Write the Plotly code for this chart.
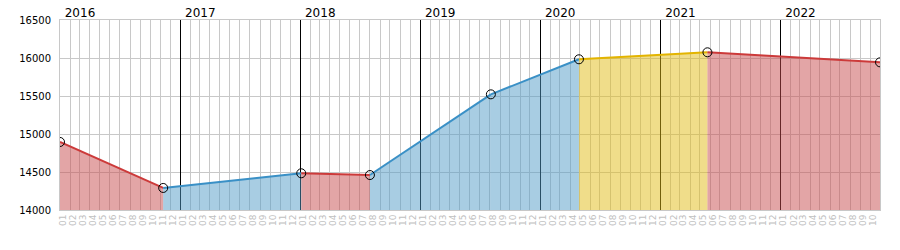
import plotly.graph_objects as go

# Data
dates = ["2016-01-01", "2016-11-10", "2018-01-04", "2018-08-01",
         "2019-08-04", "2020-04-28", "2021-05-24", "2022-10-31"]
values = [14895, 14290, 14483, 14460, 15522, 15983, 16075, 15943]
segment_trend = ["down", "up", "down", "up", "up", "flat", "down"]

line_colors = {"down": "#cc3a3a", "up": "#3a90c6", "flat": "#e3b400"}
fill_colors = {"down": "rgba(199,75,77,0.5)", "up": "rgba(81,155,199,0.5)",
               "flat": "rgba(226,188,22,0.5)"}

x_start, x_end = "2016-01-01", "2022-10-31"
y_ticks = [14000, 14500, 15000, 15500, 16000, 16500]
y_tick_text = [str(v) for v in y_ticks]

fig = go.Figure()
for i, trend in enumerate(segment_trend):
    fig.add_trace(go.Scatter(
        x=dates[i:i + 2], y=values[i:i + 2], mode="lines",
        fill="tozeroy", fillcolor=fill_colors[trend],
        line=dict(color=line_colors[trend], width=2),
        hoverinfo="skip", showlegend=False,
    ))

fig.add_trace(go.Scatter(
    x=dates, y=values, mode="markers", xaxis="x2",
    marker=dict(symbol="circle-open", size=9, color="black", line=dict(width=1)),
    showlegend=False,
))

fig.update_layout(
    width=900, height=250,
    margin=dict(l=60, r=20, t=20, b=40, autoexpand=False),
    plot_bgcolor="white", paper_bgcolor="white",
    font=dict(family="DejaVu Sans", color="black"),
    xaxis=dict(
        type="date", range=[x_start, x_end], automargin=False,
        tick0="2016-01-01", dtick="M1", tickformat="%m",
        tickangle=-90, tickfont=dict(size=9, color="#c0c0c0"),
        ticklabelshift=3,
        showgrid=True, gridcolor="#c8c8c8", gridwidth=1,
        showline=True, linecolor="#c8c8c8", linewidth=1, mirror=True,
        zeroline=False,
    ),
    xaxis2=dict(
        type="date", range=[x_start, x_end], overlaying="x", side="top",
        automargin=False,
        tick0="2016-01-01", dtick="M12", tickformat="%Y",
        tickfont=dict(size=12, color="black"), ticklabelshift=20,
        showgrid=True, gridcolor="black", gridwidth=1,
        showline=False, zeroline=False,
    ),
    yaxis=dict(
        range=[14000, 16500], tickvals=y_ticks, ticktext=y_tick_text,
        automargin=False,
        tickfont=dict(size=10, color="black"), ticklabelstandoff=6,
        showgrid=True, gridcolor="#c8c8c8", gridwidth=1,
        showline=True, linecolor="#c8c8c8", linewidth=1, mirror=True,
        zeroline=False,
    ),
)

fig.write_html("out.html")
